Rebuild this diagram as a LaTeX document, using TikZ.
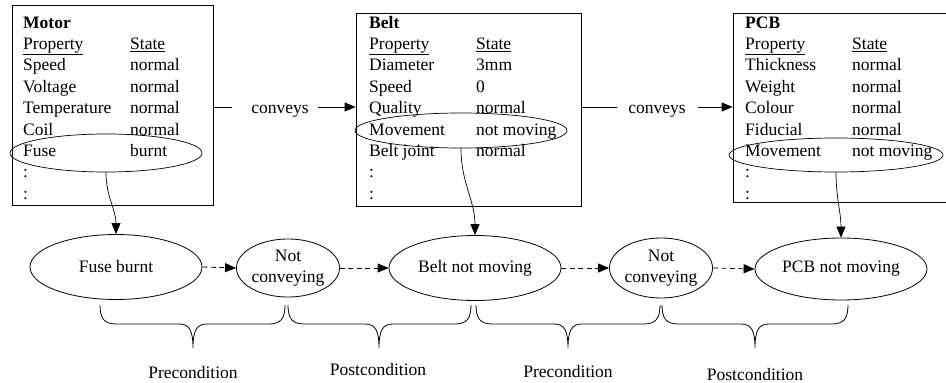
\documentclass[tikz,border=0pt]{standalone}
\usepackage{fontspec}
\setmainfont{Liberation Serif}
\usetikzlibrary{shapes.geometric,arrows.meta}
\newcommand\bracedraw[4]{%
  \draw[bracepath] (#1,305) .. controls (#1,318) and (#1+4,324) .. (#1+16,324)
    -- (#2-14,324) .. controls (#2-4,324) and (#2,330) .. (#2,348)
    .. controls (#2,330) and (#2+4,324) .. (#2+14,324)
    -- (#3-16,324) .. controls (#3-4,324) and (#3,318) .. (#3,305);}
\begin{document}
\begin{tikzpicture}[x=1pt,y=-1pt,
  txt/.style={font=\fontsize{17.5}{21}\selectfont, inner sep=0pt, anchor=base west},
  lbl/.style={font=\fontsize{17.5}{21}\selectfont, inner sep=0pt, anchor=base},
  objbox/.style={draw, line width=0.8pt, rectangle, inner sep=0pt},
  ring/.style={draw, ellipse, line width=0.7pt, inner sep=0pt},
  statenode/.style={draw, ellipse, line width=0.8pt, inner sep=0pt, align=center,
    font=\fontsize{17.5}{21}\selectfont},
  link/.style={line width=0.7pt, -{Triangle[length=11pt,width=9pt]}},
  dlink/.style={line width=0.8pt, dash pattern=on 5pt off 3.5pt, -{Triangle[length=11pt,width=9pt]}},
  conv/.style={line width=0.8pt},
  bracepath/.style={line width=0.8pt}
]
\useasboundingbox (0,0) rectangle (946,383);

% boxes
\node[objbox, minimum width=201pt, minimum height=200pt] (motor) at (112.5,105) {};
\node[objbox, minimum width=225pt, minimum height=193pt] (belt) at (468.5,109.5) {};
\node[objbox, minimum width=217pt, minimum height=189pt] (pcb) at (841.5,107.5) {};

% Motor rows
\node[txt] (m0) at (23,28) {\textbf{Motor}};
\foreach \a/\b [count=\i] in {\underline{Property}/\underline{State},Speed/normal,Voltage/normal,Temperature/normal,Coil/normal,Fuse/burnt,{:}/{},{:}/{}}{
  \node[txt] (m\i a) at (23,28+21.4*\i) {\a};
  \node[txt] (m\i b) at (130,28+21.4*\i) {\b};
}
% Belt rows
\node[txt] (b0) at (369,28) {\textbf{Belt}};
\foreach \a/\b [count=\i] in {\underline{Property}/\underline{State},Diameter/3mm,Speed/0,Quality/normal,Movement/not moving,Belt joint/normal,{:}/{},{:}/{}}{
  \node[txt] (b\i a) at (369,28+21.4*\i) {\a};
  \node[txt] (b\i b) at (476,28+21.4*\i) {\b};
}
% PCB rows
\node[txt] (p0) at (745,28) {\textbf{PCB}};
\foreach \a/\b [count=\i] in {\underline{Property}/\underline{State},Thickness/normal,Weight/normal,Colour/normal,Fiducial/normal,Movement/not moving,{:}/{},{:}/{}}{
  \node[txt] (p\i a) at (745,28+21.4*\i) {\a};
  \node[txt] (p\i b) at (852,28+21.4*\i) {\b};
}

% rings around rows
\node[ring, minimum width=192pt, minimum height=38pt] (mring) at (106,153) {};
\node[ring, minimum width=212pt, minimum height=35pt] (bring) at (461,130.5) {};
\node[ring, minimum width=214pt, minimum height=34pt] (pring) at (836,155) {};

% conveys
\coordinate (c1a) at (232,107);
\coordinate (c1b) at (318,107);
\node[lbl] (conv1) at (280,113) {conveys};
\draw[conv] (c1a -| motor.east) -- (c1a);
\draw[conv,-{Triangle[length=11pt,width=9pt]}] (c1b) -- (c1b -| belt.west);
\coordinate (c2a) at (617,107);
\coordinate (c2b) at (698,107);
\node[lbl] (conv2) at (657,113) {conveys};
\draw[conv] (c2a -| belt.east) -- (c2a);
\draw[conv,-{Triangle[length=11pt,width=9pt]}] (c2b) -- (c2b -| pcb.west);

% state ellipses
\node[statenode, minimum width=172pt, minimum height=65pt] (fb) at (116,267) {Fuse burnt};
\node[statenode, minimum width=98pt, minimum height=58pt] (nc1) at (288,268) {Not\\conveying};
\node[statenode, minimum width=172pt, minimum height=65pt] (bnm) at (475,268) {Belt not moving};
\node[statenode, minimum width=98pt, minimum height=60pt] (nc2) at (661,268) {Not\\conveying};
\node[statenode, minimum width=172pt, minimum height=62pt] (pnm) at (841,269) {PCB not moving};

\draw[dlink] (fb.east) -- (nc1.west);
\draw[dlink] (nc1.east) -- (bnm.west);
\draw[dlink] (bnm.east) -- (nc2.west);
\draw[dlink] (nc2.east) -- (pnm.west);

% links from rings
\draw[link] (mring.south) to[out=-90,in=90] (fb.north);
\draw[link] (bring.south) to[out=-90,in=90] (bnm.north);
\draw[link] (pring.south) to[out=-90,in=90] (pnm.north);

% braces
\bracedraw{100}{193}{285}{}
\bracedraw{288}{379}{471}{}
\bracedraw{476}{568}{660}{}
\bracedraw{662}{755}{848}{}

\node[lbl] (pre1) at (193,378) {Precondition};
\node[lbl] (post1) at (378,375) {Postcondition};
\node[lbl] (pre2) at (568,377) {Precondition};
\node[lbl] (post2) at (755,380) {Postcondition};
\end{tikzpicture}
\end{document}
